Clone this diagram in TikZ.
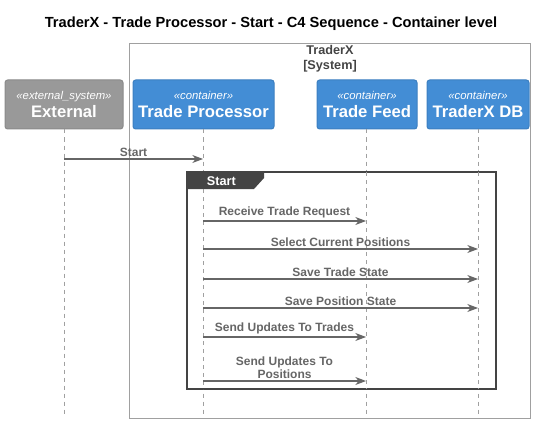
\documentclass[tikz,border=0pt]{standalone}
\usepackage{fontspec}
\setmainfont{Liberation Sans}
\usepackage{xcolor}
\usetikzlibrary{positioning}
\usetikzlibrary{arrows.meta}
\definecolor{cblue}{HTML}{438DD5}
\definecolor{cgray}{HTML}{999999}
\definecolor{cdark}{HTML}{444444}
\definecolor{cline}{HTML}{666666}
\definecolor{clife}{HTML}{A0A0A0}

\begin{document}
\begin{tikzpicture}[x=0.75pt, y=-0.75pt, line width=0.75pt,
        box/.style={draw=#1!90!black, fill=#1, rounded corners=2pt, text=white,
            align=center, inner sep=0pt, minimum height=36.75pt},
        life/.style={draw=clife, dash pattern=on 3pt off 3pt, line width=0.6pt},
        msg/.style={draw=cline, -{Stealth[length=8pt, width=6pt, inset=2.5pt]}, line width=0.8pt},
        lbl/.style={text=cline, font=\bfseries\fontsize{9}{10}\selectfont, align=center, inner sep=1.5pt}]
    \useasboundingbox (0,0) rectangle (538,424);
    \node[font=\bfseries\fontsize{11}{13}\selectfont] (title) at (271,24) {TraderX - Trade Processor - Start - C4 Sequence - Container level};

    % system boundary
    \draw[clife] (129,44) rectangle (530,418);
    \node[text=cdark, font=\bfseries\fontsize{9.5}{11.5}\selectfont, align=center] (sys) at (330,59) {TraderX\\{[System]}};

    % participants
    \node[box=cgray, minimum width=88.5pt] (ext) at (64,104.5)
        {{\itshape\fontsize{8.5}{10}\selectfont «external\_system»}\\[1pt]{\bfseries\fontsize{12.5}{14}\selectfont External}};
    \node[box=cblue, minimum width=105.75pt] (tp) at (203.5,104.5)
        {{\itshape\fontsize{8.5}{10}\selectfont «container»}\\[1pt]{\bfseries\fontsize{12.5}{14}\selectfont Trade Processor}};
    \node[box=cblue, minimum width=75pt] (tf) at (367,104.5)
        {{\itshape\fontsize{8.5}{10}\selectfont «container»}\\[1pt]{\bfseries\fontsize{12.5}{14}\selectfont Trade Feed}};
    \node[box=cblue, minimum width=76.5pt] (db) at (478,104.5)
        {{\itshape\fontsize{8.5}{10}\selectfont «container»}\\[1pt]{\bfseries\fontsize{12.5}{14}\selectfont TraderX DB}};

    % lifelines
    \coordinate (extEnd) at (64,414);
    \coordinate (tpEnd) at (203,414);
    \coordinate (tfEnd) at (366,414);
    \coordinate (dbEnd) at (478,414);
    \draw[life] (ext.south -| extEnd) -- (extEnd);
    \draw[life] (tp.south -| tpEnd) -- (tpEnd);
    \draw[life] (tf.south -| tfEnd) -- (tfEnd);
    \draw[life] (db.south -| dbEnd) -- (dbEnd);

    % group frame
    \draw[cdark, line width=1.5pt, fill=white] (187,172) rectangle (496,389);
    \fill[cdark] (187,172) -- (264,172) -- (264,178) -- (254,189) -- (187,189) -- cycle;
    \node[text=white, font=\bfseries\fontsize{9.5}{11}\selectfont, anchor=west] (grp) at (202,181) {Start};
    \draw[life] (tpEnd |- 0,189) -- (tpEnd |- 0,389);
    \draw[life] (tfEnd |- 0,172) -- (tfEnd |- 0,389);
    \draw[life] (dbEnd |- 0,172) -- (dbEnd |- 0,389);

    % messages
    \coordinate (m0) at (0,159);
    \coordinate (m1) at (0,221);
    \coordinate (m2) at (0,249);
    \coordinate (m3) at (0,279);
    \coordinate (m4) at (0,308);
    \coordinate (m5) at (0,337);
    \coordinate (m6) at (0,381);
    \draw[msg] (extEnd |- m0) -- node[lbl, above] {Start} (tpEnd |- m0);
    \draw[msg] (tpEnd |- m1) -- node[lbl, above] {Receive Trade Request} (tfEnd |- m1);
    \draw[msg] (tpEnd |- m2) -- node[lbl, above] {Select Current Positions} (dbEnd |- m2);
    \draw[msg] (tpEnd |- m3) -- node[lbl, above] {Save Trade State} (dbEnd |- m3);
    \draw[msg] (tpEnd |- m4) -- node[lbl, above] {Save Position State} (dbEnd |- m4);
    \draw[msg] (tpEnd |- m5) -- node[lbl, above] {Send Updates To Trades} (tfEnd |- m5);
    \draw[msg] (tpEnd |- m6) -- node[lbl, above] {Send Updates To\\Positions} (tfEnd |- m6);
\end{tikzpicture}
\end{document}
